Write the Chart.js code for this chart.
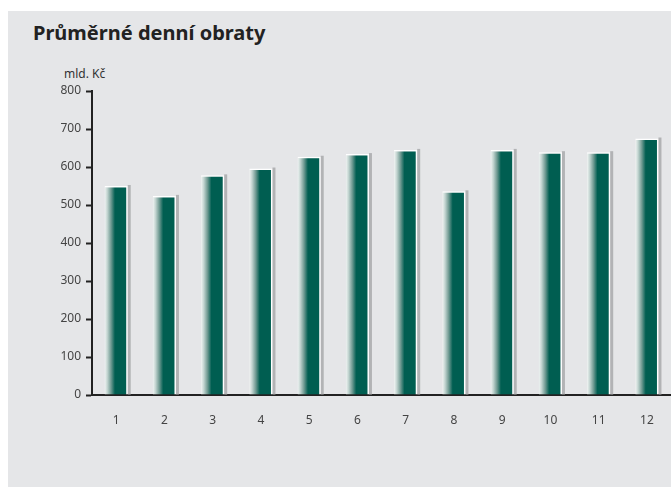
<!DOCTYPE html>
<html>
<head>
<meta charset="utf-8">
<script src="https://cdn.jsdelivr.net/npm/chart.js@4.4.1/dist/chart.umd.min.js"></script>
<style>
  html, body { margin: 0; padding: 0; background: #ffffff; }
  #wrap { position: relative; width: 671px; height: 487px; overflow: hidden; }
  #panel { position: absolute; left: 8px; top: 11px; width: 663px; height: 476px; background: #e5e6e8; }
  #title { position: absolute; left: 33px; top: 19px; font: bold 20px "Noto Sans", sans-serif; color: #222; }
  #unit { position: absolute; left: 64px; top: 65px; font: 12px "Noto Sans", sans-serif; color: #333; }
  canvas { position: absolute; left: 0; top: 0; }
</style>
</head>
<body>
<div id="wrap">
  <div id="panel"></div>
  <div id="title">Průměrné denní obraty</div>
  <div id="unit">mld. Kč</div>
  <canvas id="myChart" width="671" height="487"></canvas>
</div>
<script>
// mesice a prumerne denni obraty (mld. Kc)
const months = ['1', '2', '3', '4', '5', '6', '7', '8', '9', '10', '11', '12'];
const turnover = [550, 524, 578, 596, 627, 634, 645, 536, 645, 639, 639, 675];
const yTicks = [0, 100, 200, 300, 400, 500, 600, 700, 800];

const barPct = 0.48;

function barGradient(context) {
  const chart = context.chart;
  const xs = chart.scales.x;
  if (!xs || context.type !== 'data') return '#005e51';
  const x = xs.getPixelForValue(context.dataIndex);
  const w = xs.width / months.length * barPct;
  if (!isFinite(x) || !isFinite(w) || w <= 0) return '#005e51';
  const g = chart.ctx.createLinearGradient(x - w / 2, 0, x + w / 2, 0);
  g.addColorStop(0, '#f2f5f4');
  g.addColorStop(0.12, '#c2d4d0');
  g.addColorStop(0.28, '#6f9a92');
  g.addColorStop(0.45, '#005e51');
  g.addColorStop(1, '#005e51');
  return g;
}

// seda stin vpravo od sloupce
const barShadow = {
  id: 'barShadow',
  beforeDatasetsDraw(chart) {
    const ctx = chart.ctx;
    const meta = chart.getDatasetMeta(0);
    ctx.save();
    ctx.fillStyle = '#b2b3b5';
    meta.data.forEach(bar => {
      const p = bar.getProps(['x', 'y', 'base', 'width'], true);
      ctx.fillRect(p.x + p.width / 2, p.y - 1, 3, p.base - p.y + 1);
    });
    ctx.restore();
  }
};

const ctx = document.getElementById('myChart');
new Chart(ctx, {
  type: 'bar',
  data: {
    labels: months,
    datasets: [{
      data: turnover,
      backgroundColor: barGradient,
      borderColor: '#ffffff',
      borderWidth: { top: 1.5, right: 1.5, left: 0, bottom: 0 },
      borderSkipped: 'start',
      barPercentage: barPct,
      categoryPercentage: 1
    }]
  },
  options: {
    responsive: false,
    animation: false,
    layout: { padding: { top: 91, right: 0, bottom: 62, left: 0 } },
    plugins: {
      legend: { display: false },
      title: { display: false },
      tooltip: { enabled: false }
    },
    scales: {
      x: {
        grid: { display: false },
        border: { display: true, color: '#222', width: 2 },
        ticks: { color: '#444', font: { family: 'Noto Sans', size: 12 }, padding: 10 },
        afterFit(scale) { scale.height = 30; }
      },
      y: {
        min: 0,
        max: 800,
        afterBuildTicks(scale) { scale.ticks = yTicks.map(v => ({ value: v })); },
        grid: { drawOnChartArea: false, drawTicks: true, tickLength: 6, tickWidth: 2, color: '#222' },
        border: { display: true, color: '#222', width: 2 },
        ticks: { color: '#444', font: { family: 'Noto Sans', size: 12 }, padding: 5 },
        afterFit(scale) { scale.width = 92; }
      }
    }
  },
  plugins: [barShadow]
});
</script>
</body>
</html>
